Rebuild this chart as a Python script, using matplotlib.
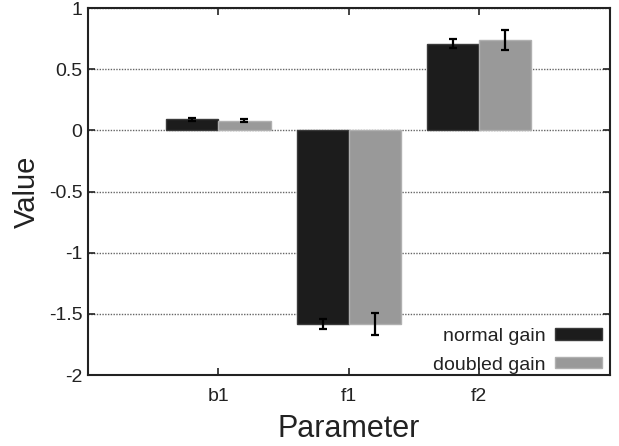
import numpy as np
import matplotlib
matplotlib.use('Agg')
import matplotlib.pyplot as plt

plt.rcParams['font.family'] = ['Liberation Sans', 'DejaVu Sans']

# values
params = ['b1', 'f1', 'f2']
normal_gain = [0.09, -1.58, 0.71]
normal_err = [0.01, 0.04, 0.04]
doubled_gain = [0.08, -1.58, 0.74]
doubled_err = [0.015, 0.09, 0.08]

yticks = [-2, -1.5, -1, -0.5, 0, 0.5, 1]
ytick_labels = ['-2', '-1.5', '-1', '-0.5', '0', '0.5', '1']

fig = plt.figure(figsize=(6.19, 4.46), dpi=100)
ax = fig.add_axes([0.142, 0.159, 0.843, 0.823])

x = np.arange(1, len(params) + 1)
w = 0.4
err_kw = dict(ecolor='black', elinewidth=1.6, capsize=3, capthick=1.6)
ax.bar(x - w / 2, normal_gain, w, yerr=normal_err, color='#1c1c1c',
       edgecolor='#3a3a3a', linewidth=1, label='normal gain', error_kw=err_kw, zorder=3)
ax.bar(x + w / 2, doubled_gain, w, yerr=doubled_err, color='#999999',
       edgecolor='#b0b0b0', linewidth=1, label='doubled gain', error_kw=err_kw, zorder=3)

ax.set_xlim(0, 4)
ax.set_ylim(-2, 1)
ax.set_xticks(x)
ax.set_xticklabels(params)
ax.set_yticks(yticks)
ax.set_yticklabels(ytick_labels)
ax.tick_params(direction='in', top=True, right=True, length=5, width=1.2,
               labelsize=14, colors='#222222')
ax.tick_params(axis='y', pad=4)
ax.tick_params(axis='x', pad=9)
for s in ax.spines.values():
    s.set_linewidth(1.5)
    s.set_color('#222222')
ax.yaxis.grid(True, linestyle=(0, (1, 1)), color='#666666', linewidth=1, zorder=0)
ax.set_axisbelow(True)

ax.set_xlabel('Parameter', fontsize=22, color='#222222', labelpad=7)
ax.set_ylabel('Value', fontsize=21, color='#222222', labelpad=6)

leg = ax.legend(loc='lower right', bbox_to_anchor=(1.0, -0.017), frameon=False,
                fontsize=14, markerfirst=False, handlelength=2.4, handleheight=0.5,
                handletextpad=0.5, labelspacing=0.6, borderaxespad=0.0)
for t in leg.get_texts():
    t.set_color('#222222')

plt.savefig('out.png', dpi=100)
